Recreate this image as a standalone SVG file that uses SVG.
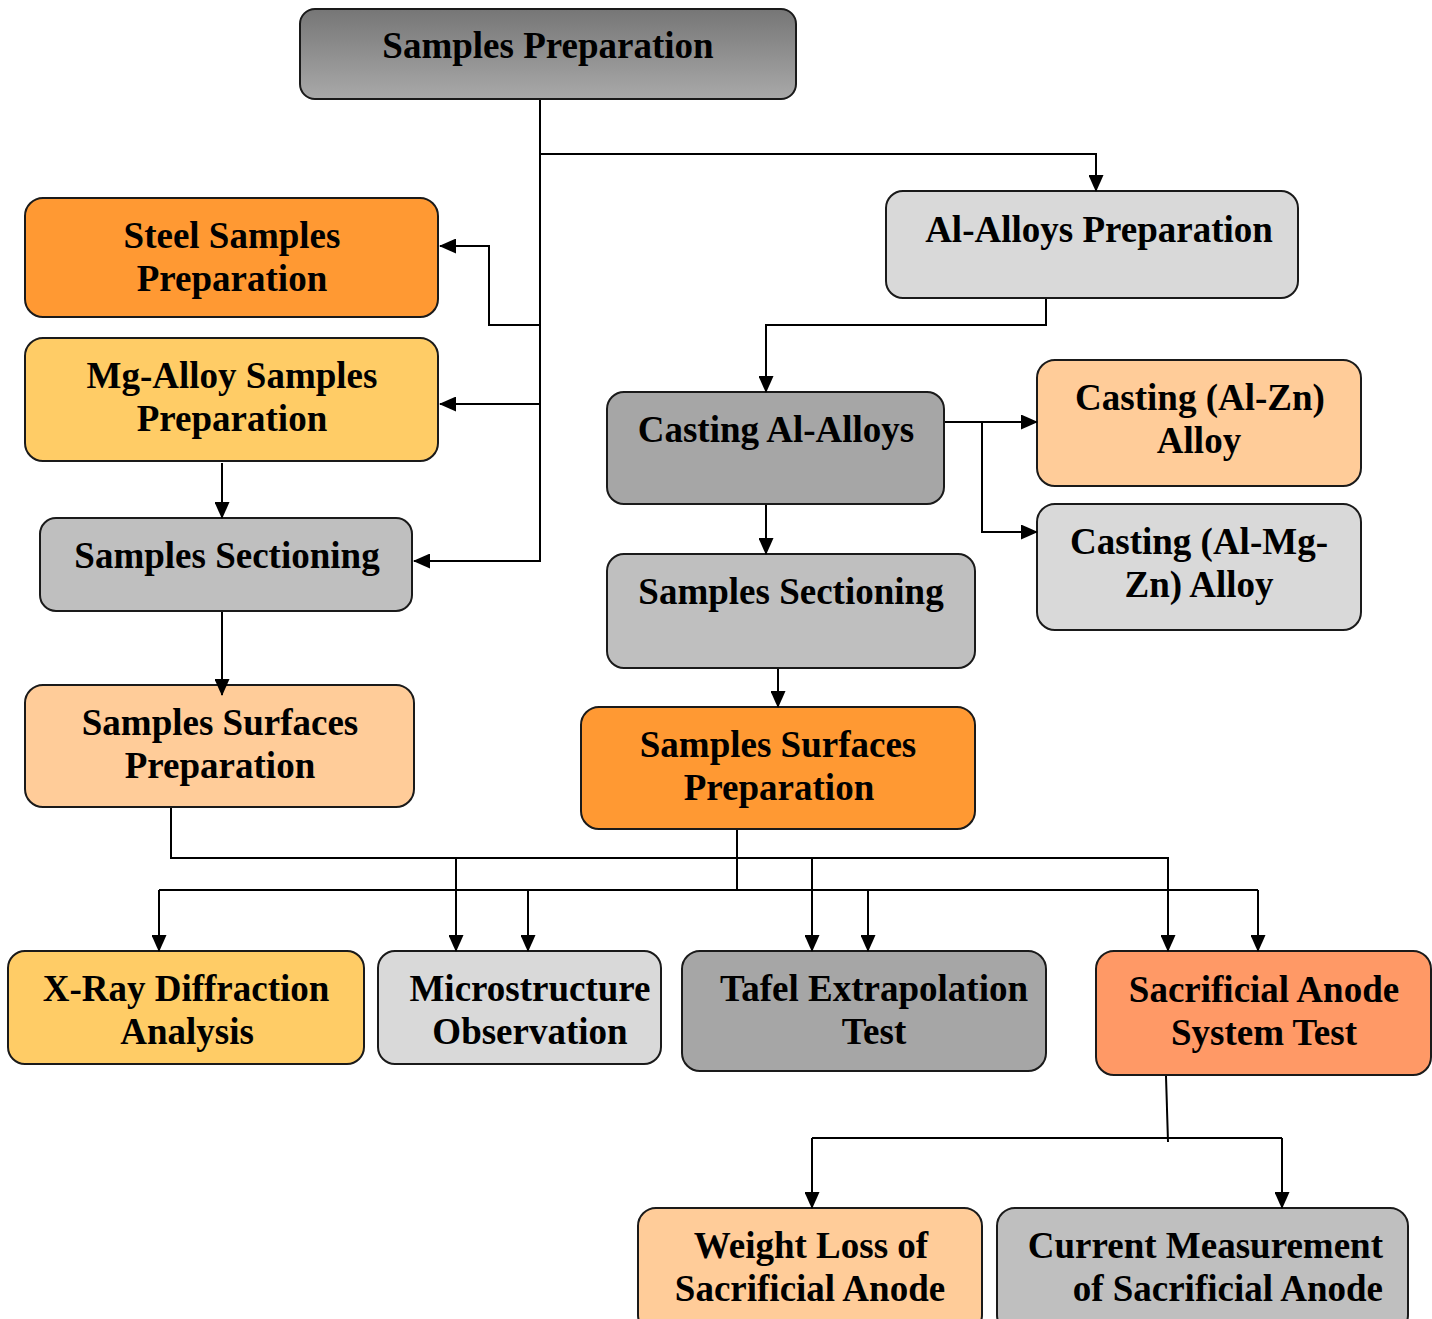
<svg xmlns="http://www.w3.org/2000/svg" width="1432" height="1319" viewBox="0 0 1432 1319">
<style>
.box{stroke:#1a1a1a;stroke-width:2}
.t{font-family:"Liberation Serif","Times New Roman",serif;font-weight:bold;font-size:37px;fill:#000;text-anchor:middle}
.c{fill:none;stroke:#000;stroke-width:2}
.a{marker-end:url(#ah)}
.orange{fill:#FF9933}.yellow{fill:#FFCC66}.peach{fill:#FFCC99}.lgray{fill:#D9D9D9}.mgray{fill:#BFBFBF}.dgray{fill:#A6A6A6}.salmon{fill:#FF9966}
</style>
<defs>
<linearGradient id="topg" x1="0" y1="0" x2="0" y2="1">
<stop offset="0" stop-color="#767676"/>
<stop offset="1" stop-color="#A9A9A9"/>
</linearGradient>
<marker id="ah" viewBox="0 0 17 15" refX="16" refY="7.5" markerWidth="17" markerHeight="15" markerUnits="userSpaceOnUse" orient="auto">
<path d="M0,0 L17,7.5 L0,15 z" fill="#000"/>
</marker>
</defs>
<rect width="1432" height="1319" fill="#fff"/>

<g id="n-samples-preparation">
<rect class="box" x="300" y="9" width="496" height="90" rx="15" fill="url(#topg)"/>
<text class="t" x="548" y="58">Samples Preparation</text>
</g>
<g id="n-steel">
<rect class="box orange" x="25" y="198" width="413" height="119" rx="18"/>
<text class="t" x="232" y="248">Steel Samples</text>
<text class="t" x="232" y="291">Preparation</text>
</g>
<g id="n-mg">
<rect class="box yellow" x="25" y="338" width="413" height="123" rx="18"/>
<text class="t" x="232" y="388">Mg-Alloy Samples</text>
<text class="t" x="232" y="431">Preparation</text>
</g>
<g id="n-sectioning-left">
<rect class="box mgray" x="40" y="518" width="372" height="93" rx="16"/>
<text class="t" x="227" y="568">Samples Sectioning</text>
</g>
<g id="n-surfaces-left">
<rect class="box peach" x="25" y="685" width="389" height="122" rx="18"/>
<text class="t" x="220" y="735">Samples Surfaces</text>
<text class="t" x="220" y="778">Preparation</text>
</g>
<g id="n-al-alloys">
<rect class="box lgray" x="886" y="191" width="412" height="107" rx="17"/>
<text class="t" x="1099" y="242">Al-Alloys Preparation</text>
</g>
<g id="n-casting-al">
<rect class="box dgray" x="607" y="392" width="337" height="112" rx="17"/>
<text class="t" x="776" y="442">Casting Al-Alloys</text>
</g>
<g id="n-casting-alzn">
<rect class="box peach" x="1037" y="360" width="324" height="126" rx="18"/>
<text class="t" x="1200" y="410">Casting (Al-Zn)</text>
<text class="t" x="1199" y="453">Alloy</text>
</g>
<g id="n-casting-almgzn">
<rect class="box lgray" x="1037" y="504" width="324" height="126" rx="18"/>
<text class="t" x="1199" y="554">Casting (Al-Mg-</text>
<text class="t" x="1199" y="597">Zn) Alloy</text>
</g>
<g id="n-sectioning-right">
<rect class="box mgray" x="607" y="554" width="368" height="114" rx="17"/>
<text class="t" x="791" y="604">Samples Sectioning</text>
</g>
<g id="n-surfaces-right">
<rect class="box orange" x="581" y="707" width="394" height="122" rx="18"/>
<text class="t" x="778" y="757">Samples Surfaces</text>
<text class="t" x="779" y="800">Preparation</text>
</g>
<g id="n-xray">
<rect class="box yellow" x="8" y="951" width="356" height="113" rx="17"/>
<text class="t" x="186" y="1001">X-Ray Diffraction</text>
<text class="t" x="187" y="1044">Analysis</text>
</g>
<g id="n-micro">
<rect class="box lgray" x="378" y="951" width="283" height="113" rx="17"/>
<text class="t" x="530" y="1001">Microstructure</text>
<text class="t" x="530" y="1044">Observation</text>
</g>
<g id="n-tafel">
<rect class="box dgray" x="682" y="951" width="364" height="120" rx="18"/>
<text class="t" x="874" y="1001">Tafel Extrapolation</text>
<text class="t" x="874" y="1044">Test</text>
</g>
<g id="n-sacrificial">
<rect class="box salmon" x="1096" y="951" width="335" height="124" rx="18"/>
<text class="t" x="1264" y="1002">Sacrificial Anode</text>
<text class="t" x="1264" y="1045">System Test</text>
</g>
<g id="n-weight-loss">
<rect class="box peach" x="638" y="1208" width="344" height="125" rx="18"/>
<text class="t" x="811" y="1258">Weight Loss of</text>
<text class="t" x="810" y="1301">Sacrificial Anode</text>
</g>
<g id="n-current">
<rect class="box mgray" x="997" y="1208" width="411" height="125" rx="18"/>
<text class="t" x="1383" y="1258" style="text-anchor:end">Current Measurement</text>
<text class="t" x="1383" y="1301" style="text-anchor:end">of Sacrificial Anode</text>
</g>

<g id="connectors">
<path class="c a" d="M540,100 V561 H414"/>
<path class="c a" d="M540,154 H1096 V191"/>
<path class="c a" d="M540,325 H489 V246 H440"/>
<path class="c a" d="M540,404 H440"/>
<path class="c a" d="M222,463 V518"/>
<path class="c a" d="M222,612 V695"/>
<path class="c a" d="M1046,299 V325 H766 V392"/>
<path class="c a" d="M945,422 H1037"/>
<path class="c a" d="M982,422 V532 H1037"/>
<path class="c a" d="M766,505 V554"/>
<path class="c a" d="M778,669 V707"/>
<path class="c a" d="M171,808 V858 H1168 V951"/>
<path class="c a" d="M456,858 V951"/>
<path class="c a" d="M812,858 V951"/>
<path class="c" d="M737,830 V890"/>
<path class="c" d="M159,890 H1258"/>
<path class="c a" d="M159,890 V951"/>
<path class="c a" d="M528,890 V951"/>
<path class="c a" d="M868,890 V951"/>
<path class="c a" d="M1258,890 V951"/>
<path class="c" d="M1166,1076 L1168,1142"/>
<path class="c" d="M812,1138 H1282"/>
<path class="c a" d="M812,1138 V1208"/>
<path class="c a" d="M1282,1138 V1208"/>
</g>
</svg>
